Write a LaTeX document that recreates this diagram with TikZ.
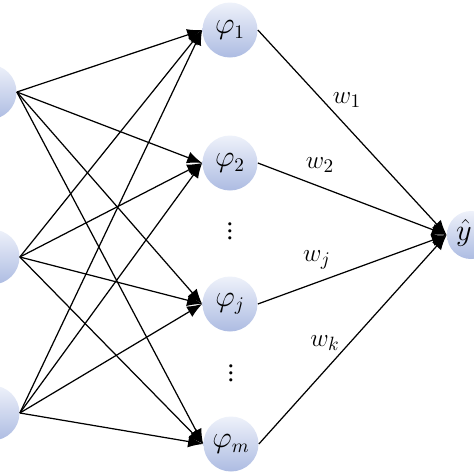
\documentclass[tikz,border=0pt]{standalone}
\usepackage{fontspec}
\setmainfont{Liberation Serif}
\usetikzlibrary{arrows.meta}
\definecolor{neurontop}{HTML}{EEF1FA}
\definecolor{neuronbottom}{HTML}{ADBCE2}
\tikzstyle{neuron}=[circle, minimum size=55*0.02cm, inner sep=0pt, top color=neurontop, bottom color=neuronbottom, draw=none, font={\fontsize{16}{18}\selectfont}]
\tikzstyle{link}=[-{Latex[length=3mm, width=2.4mm]}, line width=.7pt]
\tikzstyle{weight}=[font={\fontsize{15}{17}\selectfont}]

\begin{document}
\begin{tikzpicture}[x=0.02cm, y=-0.02cm]

    \useasboundingbox (0, 0) rectangle (474, 474);
    \begin{scope}
    \clip (0, 0) rectangle (474, 474);

    \node[neuron] (in1) at (-11, 92) {};
    \node[neuron] (in2) at (-8, 257) {};
    \node[neuron] (in3) at (-8, 413) {};

    \node[neuron] (h1) at (230, 30) {$\varphi_1$};
    \node[neuron] (h2) at (230, 163) {$\varphi_2$};
    \node[neuron] (hj) at (230, 304) {$\varphi_j$};
    \node[neuron] (hm) at (231, 444) {$\varphi_m$};
    \node[neuron, minimum size=48*0.02cm] (out) at (471, 235) {};
    \node[weight, font={\fontsize{16}{18}\selectfont}, inner sep=1pt] (yhat) at (464, 233) {$\hat{y}$};

    \node[weight] (dots1) at (230, 226) {$\vdots$};
    \node[weight] (dots2) at (231, 368) {$\vdots$};

    \foreach \i in {in1, in2, in3}
        \foreach \h in {h1, h2, hj, hm}
            \draw[link] (\i.east) -- (\h.west);

    \draw[link] (h1.east) -- (out.west);
    \draw[link] (h2.east) -- (out.west);
    \draw[link] (hj.east) -- (out.west);
    \draw[link] (hm.east) -- (out.west);

    \node[weight] (w1) at (347, 100) {$w_1$};
    \node[weight] (w2) at (320, 165) {$w_2$};
    \node[weight] (wj) at (317, 260) {$w_j$};
    \node[weight] (wk) at (325, 343) {$w_k$};
    \end{scope}

\end{tikzpicture}
\end{document}
